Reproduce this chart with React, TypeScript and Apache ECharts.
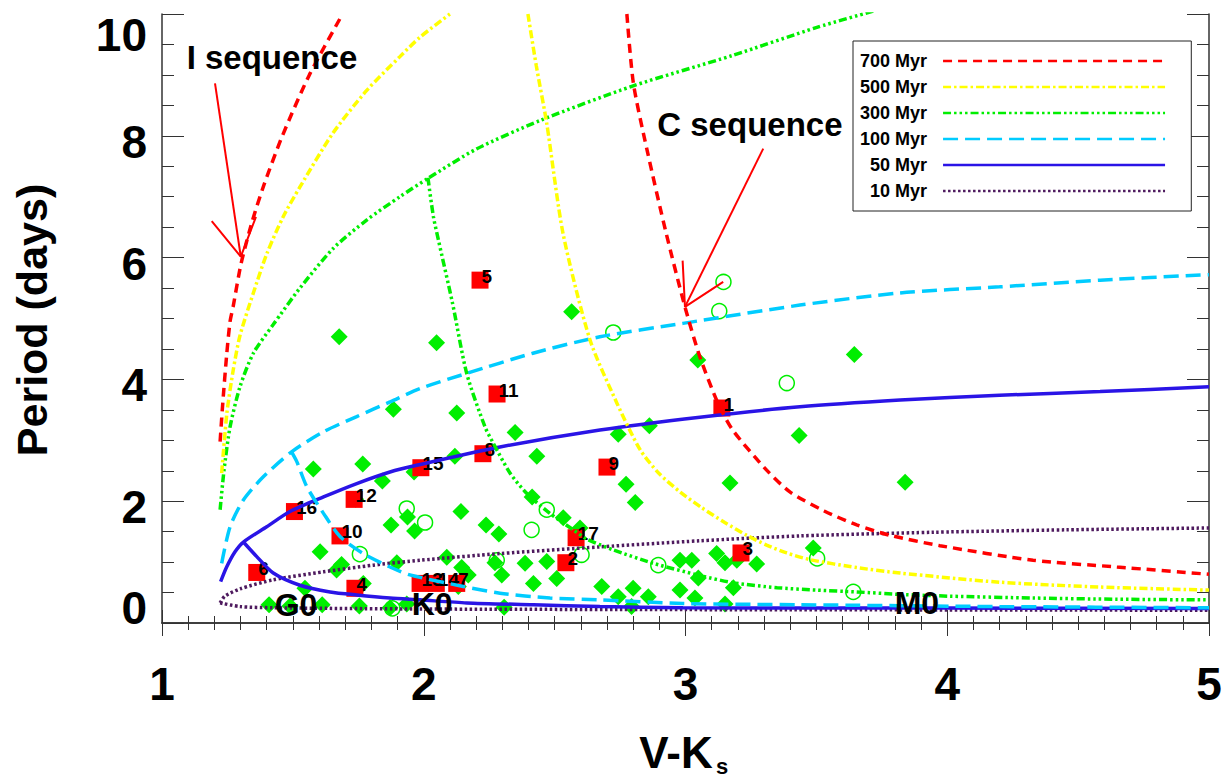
import React, { useEffect, useRef } from 'react';
import * as echarts from 'echarts';

const FONT = "'Liberation Sans', Arial, Helvetica, sans-serif";
const AXIS_COLOR = '#333333';

// axis tick values
const xTickValues = [1, 2, 3, 4, 5];
const yTickValues = [0, 2, 4, 6, 8, 10];

// isochrone names (legend order)
const ageNames = ['700 Myr', '500 Myr', '300 Myr', '100 Myr', '50 Myr', '10 Myr'];
const ageColors = ['#FF0000', '#FFFF00', '#00EE00', '#00CCFF', '#2A14E6', '#4E1A5E'];
const ageDash: any[] = [[9, 6], [8, 3, 2.5, 3], [8, 3, 2.5, 3, 2.5, 3, 2.5, 3], [15, 7], 'solid', [2.5, 2.5]];

// isochrones: I sequence and C sequence branches [V-Ks, Period]
const iso700I = [[1.222, 2.98], [1.232, 3.6], [1.247, 4.4], [1.26, 4.95], [1.272, 5.2], [1.302, 5.9], [1.345, 6.6], [1.39, 7.2], [1.46, 8.0], [1.563, 9.0], [1.69, 10.0]];
const iso700C = [[2.776, 10.0], [2.801, 8.86], [2.853, 7.77], [2.925, 6.42], [2.998, 5.19], [3.055, 4.37], [3.124, 3.61], [3.18, 3.17], [3.31, 2.51], [3.4, 2.15], [3.53, 1.84], [3.654, 1.61], [3.781, 1.44], [3.972, 1.27], [4.328, 1.03], [4.648, 0.92], [5.0, 0.8]];
const iso500I = [[1.228, 2.46], [1.248, 3.45], [1.272, 4.15], [1.298, 4.72], [1.349, 5.42], [1.401, 6.07], [1.463, 6.67], [1.527, 7.16], [1.654, 8.05], [1.783, 8.75], [1.909, 9.3], [1.986, 9.62], [2.1, 10.0]];
const iso500C = [[2.398, 10.0], [2.43, 9.15], [2.47, 8.2], [2.532, 6.4], [2.635, 4.65], [2.738, 3.61], [2.826, 2.85], [2.9, 2.45], [2.98, 2.15], [3.06, 1.9], [3.15, 1.65], [3.234, 1.44], [3.31, 1.28], [3.387, 1.15], [3.476, 1.04], [3.654, 0.91], [3.82, 0.82], [4.2, 0.67], [4.584, 0.59], [5.0, 0.54]];
const iso300I = [[1.222, 1.86], [1.237, 2.51], [1.26, 3.22], [1.298, 3.88], [1.349, 4.43], [1.425, 4.9], [1.527, 5.5], [1.654, 6.15], [1.783, 6.62], [1.909, 7.0], [2.016, 7.3], [2.2, 7.78], [2.444, 8.25], [2.8, 8.82], [3.18, 9.32], [3.502, 9.78], [3.72, 10.05]];
const iso300C = [[2.016, 7.31], [2.037, 6.67], [2.056, 6.29], [2.11, 5.25], [2.164, 4.1], [2.234, 3.22], [2.266, 2.95], [2.33, 2.46], [2.393, 2.13], [2.482, 1.8], [2.571, 1.53], [2.622, 1.38], [2.724, 1.2], [2.877, 0.98], [3.055, 0.78], [3.183, 0.66], [3.35, 0.58], [3.501, 0.54], [3.654, 0.51], [3.82, 0.47], [4.01, 0.44], [4.33, 0.41], [4.65, 0.39], [5.0, 0.38]];
const iso100I = [[1.228, 0.98], [1.26, 1.58], [1.311, 2.02], [1.387, 2.4], [1.495, 2.81], [1.617, 3.14], [1.744, 3.39], [1.871, 3.63], [1.986, 3.85], [2.165, 4.1], [2.417, 4.43], [2.673, 4.7], [2.99, 4.92], [3.437, 5.22], [3.82, 5.42], [4.2, 5.52], [4.584, 5.63], [5.0, 5.72]];
const iso100C = [[1.495, 2.81], [1.515, 2.65], [1.553, 2.24], [1.617, 1.8], [1.68, 1.42], [1.769, 1.14], [1.871, 0.92], [1.947, 0.79], [2.151, 0.6], [2.291, 0.49], [2.482, 0.41], [2.673, 0.38], [2.99, 0.32], [3.437, 0.3], [4.2, 0.27], [5.0, 0.25]];
const iso50I = [[1.224, 0.68], [1.247, 0.92], [1.279, 1.17], [1.311, 1.33], [1.4, 1.58], [1.489, 1.83], [1.617, 2.07], [1.744, 2.29], [1.871, 2.48], [1.973, 2.59], [2.291, 2.89], [2.673, 3.17], [3.055, 3.38], [3.437, 3.55], [3.82, 3.66], [4.2, 3.74], [4.584, 3.8], [5.0, 3.88]];
const iso50C = [[1.311, 1.33], [1.362, 1.09], [1.425, 0.82], [1.527, 0.62], [1.642, 0.51], [1.744, 0.46], [1.871, 0.41], [1.986, 0.38], [2.164, 0.33], [2.419, 0.3], [2.673, 0.27], [2.99, 0.25], [4.0, 0.245], [5.0, 0.24]];
const iso10Upper = [[1.222, 0.33], [1.24, 0.44], [1.298, 0.56], [1.425, 0.71], [1.617, 0.84], [1.807, 0.95], [1.986, 1.03], [2.291, 1.14], [2.673, 1.25], [3.055, 1.35], [3.437, 1.43], [3.946, 1.49], [4.457, 1.53], [5.0, 1.56]];
const iso10Lower = [[1.222, 0.33], [1.298, 0.27], [1.425, 0.25], [1.986, 0.23], [3.0, 0.22], [5.0, 0.21]];

// green filled diamonds
const diamondX = [1.677, 2.049, 2.565, 3.047, 3.645, 1.884, 2.126, 2.349, 2.743, 2.862, 3.434, 2.119, 2.432, 1.578, 1.767, 1.842, 1.963, 1.740, 2.773, 2.808, 3.170, 3.839, 2.142, 2.414, 2.238, 2.287, 2.533, 2.597, 1.875, 1.938, 1.965, 1.604, 1.686, 1.667, 1.897, 1.769, 1.546, 1.409, 1.489, 1.612, 1.754, 1.871, 1.935, 2.088, 2.145, 2.170, 2.272, 2.298, 2.387, 2.470, 2.419, 2.508, 2.132, 2.307, 2.680, 2.979, 3.024, 3.119, 3.151, 3.196, 3.272, 3.049, 3.183, 2.800, 2.743, 2.794, 2.858, 2.979, 3.036, 3.151, 3.488];
const diamondY = [4.70, 4.60, 5.11, 4.32, 4.41, 3.51, 3.45, 3.13, 3.10, 3.24, 3.08, 2.74, 2.74, 2.53, 2.61, 2.33, 2.48, 2.03, 2.28, 1.98, 2.30, 2.31, 1.83, 2.07, 1.61, 1.46, 1.73, 1.56, 1.61, 1.74, 1.51, 1.17, 0.96, 0.87, 0.99, 0.65, 0.57, 0.30, 0.28, 0.30, 0.28, 0.25, 0.31, 1.08, 0.91, 0.79, 0.99, 0.79, 0.98, 1.01, 0.65, 0.73, 0.60, 0.26, 0.60, 1.03, 1.03, 1.14, 0.99, 1.03, 0.97, 0.74, 0.58, 0.57, 0.43, 0.27, 0.43, 0.54, 0.41, 0.31, 1.23];

// green open circles
const circleX = [3.145, 3.129, 2.724, 3.387, 1.935, 2.005, 2.412, 2.470, 2.603, 1.756, 2.896, 3.503, 3.641, 2.279, 1.880];
const circleY = [5.60, 5.12, 4.77, 3.94, 1.88, 1.65, 1.53, 1.86, 1.12, 1.13, 0.95, 1.06, 0.51, 1.03, 0.24];

// numbered red squares
const starIds = ['1', '2', '3', '4', '5', '6', '8', '9', '10', '11', '12', '13', '14', '7', '15', '16', '17'];
const starX = [3.139, 2.543, 3.212, 1.737, 2.215, 1.362, 2.226, 2.700, 1.680, 2.280, 1.734, 1.986, 2.048, 2.126, 1.989, 1.506, 2.582];
const starY = [3.53, 0.99, 1.15, 0.57, 5.63, 0.83, 2.78, 2.56, 1.43, 3.76, 2.03, 0.65, 0.65, 0.65, 2.55, 1.83, 1.40];

// annotations
const noteText = ['I sequence', 'C sequence', 'G0', 'K0', 'M0'];
const noteX = [1.42, 3.246, 1.512, 2.032, 3.884];
const noteY = [9.28, 8.18, 0.30, 0.31, 0.33];
const noteFontSize = [33, 33, 32, 32, 32];

// arrows
const arrowIShaft = [[1.2025, 8.86], [1.301, 6.015]];
const arrowIHead = [[1.19, 6.6], [1.301, 6.015], [1.359, 6.67]];
const arrowCShaft = [[3.297, 7.79], [2.998, 5.19]];
const arrowCHead = [[2.989, 5.95], [2.998, 5.19], [3.144, 5.6]];

function buildOption(): any {
  const branches: [number, number[][]][] = [
    [5, iso10Upper], [5, iso10Lower],
    [4, iso50I], [4, iso50C],
    [3, iso100I], [3, iso100C],
    [2, iso300I], [2, iso300C],
    [1, iso500I], [1, iso500C],
    [0, iso700I], [0, iso700C],
  ];
  const curveSeries = branches.map(([k, data]) => ({
    type: 'line',
    name: ageNames[k],
    data,
    smooth: 0.25,
    symbol: 'none',
    showSymbol: false,
    silent: true,
    lineStyle: { color: ageColors[k], width: 3.5, type: ageDash[k] },
    itemStyle: { color: ageColors[k] },
  }));

  const arrowSeries = [arrowIShaft, arrowIHead, arrowCShaft, arrowCHead].map((d, i) => ({
    type: 'line',
    name: 'arrow' + i,
    data: d,
    symbol: 'none',
    showSymbol: false,
    silent: true,
    lineStyle: { color: '#FF0000', width: 2, type: 'solid' },
  }));

  const axisLine = { show: true, lineStyle: { color: AXIS_COLOR, width: 1.5 } };
  const bigText = { fontSize: 46, fontWeight: 'bold', fontFamily: FONT, color: '#000' };

  return {
    animation: false,
    backgroundColor: '#ffffff',
    grid: { left: 162, top: 14, width: 1047, height: 609, outerBoundsMode: 'none', containLabel: false },
    legend: {
      data: ageNames,
      orient: 'vertical',
      left: 853,
      top: 41,
      align: 'right',
      itemWidth: 222,
      itemHeight: 14,
      itemGap: 8,
      padding: [11, 25, 11, 7],
      borderColor: '#222222',
      borderWidth: 1,
      backgroundColor: '#ffffff',
      selectedMode: false,
      itemStyle: { opacity: 0, borderWidth: 0 },
      lineStyle: { width: 2.5 },
      textStyle: { fontSize: 18, fontWeight: 'bold', fontFamily: FONT, color: '#000', padding: [0, 11, 0, 0] },
    },
    xAxis: [
      {
        type: 'value', position: 'bottom',
        min: xTickValues[0], max: xTickValues[xTickValues.length - 1], interval: 1,
        axisLine,
        axisTick: { show: true, inside: true, length: 13, lineStyle: { color: AXIS_COLOR, width: 1 } },
        minorTick: { show: true, splitNumber: 10, length: 7, lineStyle: { color: AXIS_COLOR, width: 1 } },
        splitLine: { show: false },
        minorSplitLine: { show: false },
        axisLabel: { show: true, margin: 38, ...bigText, showMinLabel: true, showMaxLabel: true },
      },
      {
        type: 'value', position: 'top',
        min: xTickValues[0], max: xTickValues[xTickValues.length - 1], interval: 1,
        axisLine,
        axisTick: { show: true, inside: true, length: 13, lineStyle: { color: AXIS_COLOR, width: 1 } },
        minorTick: { show: true, splitNumber: 10, length: 7, lineStyle: { color: AXIS_COLOR, width: 1 } },
        splitLine: { show: false },
        axisLabel: { show: false },
      },
    ],
    yAxis: [
      {
        type: 'value', position: 'left',
        min: yTickValues[0], max: yTickValues[yTickValues.length - 1], interval: 2,
        axisLine,
        axisTick: { show: true, inside: true, length: 22, lineStyle: { color: AXIS_COLOR, width: 1 } },
        minorTick: { show: true, splitNumber: 4, length: 12, lineStyle: { color: AXIS_COLOR, width: 1 } },
        splitLine: { show: false },
        axisLabel: {
          show: true, margin: 15, ...bigText,
          showMinLabel: true, showMaxLabel: true,
          formatter: (v: number) => {
            if (v === yTickValues[yTickValues.length - 1]) return '{t|' + v + '}';
            if (v === yTickValues[0]) return '{b|' + v + '}';
            return '{n|' + v + '}';
          },
          rich: {
            n: { ...bigText, padding: [12, 0, 0, 0] },
            t: { ...bigText, padding: [42, 0, 0, 0] },
            b: { ...bigText, padding: [0, 0, 31, 0] },
          },
        },
      },
      {
        type: 'value', position: 'right',
        min: yTickValues[0], max: yTickValues[yTickValues.length - 1], interval: 2,
        axisLine,
        axisTick: { show: true, inside: true, length: 22, lineStyle: { color: AXIS_COLOR, width: 1 } },
        minorTick: { show: true, splitNumber: 4, length: 12, lineStyle: { color: AXIS_COLOR, width: 1 } },
        splitLine: { show: false },
        axisLabel: { show: false },
      },
    ],
    graphic: [
      {
        type: 'text', x: 32, y: 320, rotation: Math.PI / 2,
        style: { text: 'Period (days)', fontSize: 43, fontWeight: 'bold', fontFamily: FONT, fill: '#000', textAlign: 'center', textVerticalAlign: 'middle' },
      },
      {
        type: 'text', x: 676, y: 752,
        style: { text: 'V-K', fontSize: 44, fontWeight: 'bold', fontFamily: FONT, fill: '#000', textAlign: 'center', textVerticalAlign: 'middle' },
      },
      {
        type: 'text', x: 722, y: 766,
        style: { text: 's', fontSize: 22, fontWeight: 'bold', fontFamily: FONT, fill: '#000', textAlign: 'center', textVerticalAlign: 'middle' },
      },
    ],
    series: [
      ...curveSeries,
      ...arrowSeries,
      {
        type: 'scatter', name: 'diamonds', silent: true,
        symbol: 'diamond', symbolSize: 17,
        itemStyle: { color: '#00EE00', opacity: 1 },
        data: diamondX.map((x, i) => [x, diamondY[i]]),
      },
      {
        type: 'scatter', name: 'circles', silent: true,
        symbol: 'circle', symbolSize: 15,
        itemStyle: { color: 'rgba(0,0,0,0)', borderColor: '#00EE00', borderWidth: 1.5, opacity: 1 },
        data: circleX.map((x, i) => [x, circleY[i]]),
      },
      {
        type: 'scatter', name: 'stars', silent: true,
        symbol: 'rect', symbolSize: 17,
        itemStyle: { color: '#FF0000', opacity: 1 },
        label: { show: true, formatter: '{b}', position: [10, -5], fontSize: 19, fontWeight: 'bold', fontFamily: FONT, color: '#000', textBorderWidth: 0, opacity: 1 },
        data: starX.map((x, i) => ({ name: starIds[i], value: [x, starY[i]] })),
      },
      {
        type: 'scatter', name: 'notes', silent: true,
        symbolSize: 0,
        itemStyle: { color: 'rgba(0,0,0,0)', opacity: 1 },
        label: { show: true, formatter: '{b}', position: 'inside', fontWeight: 'bold', fontFamily: FONT, color: '#000', textBorderWidth: 0, opacity: 1 },
        data: noteX.map((x, i) => ({ name: noteText[i], value: [x, noteY[i]], label: { fontSize: noteFontSize[i] } })),
        z: 5,
      },
    ],
  };
}

export default function App() {
  const ref = useRef<HTMLDivElement>(null);
  useEffect(() => {
    document.body.style.margin = '0';
    if (!ref.current) return;
    const chart = echarts.init(ref.current, undefined, { renderer: 'svg' });
    chart.setOption(buildOption());
    return () => chart.dispose();
  }, []);
  return <div ref={ref} style={{ width: 1225, height: 780, background: '#fff' }} />;
}
